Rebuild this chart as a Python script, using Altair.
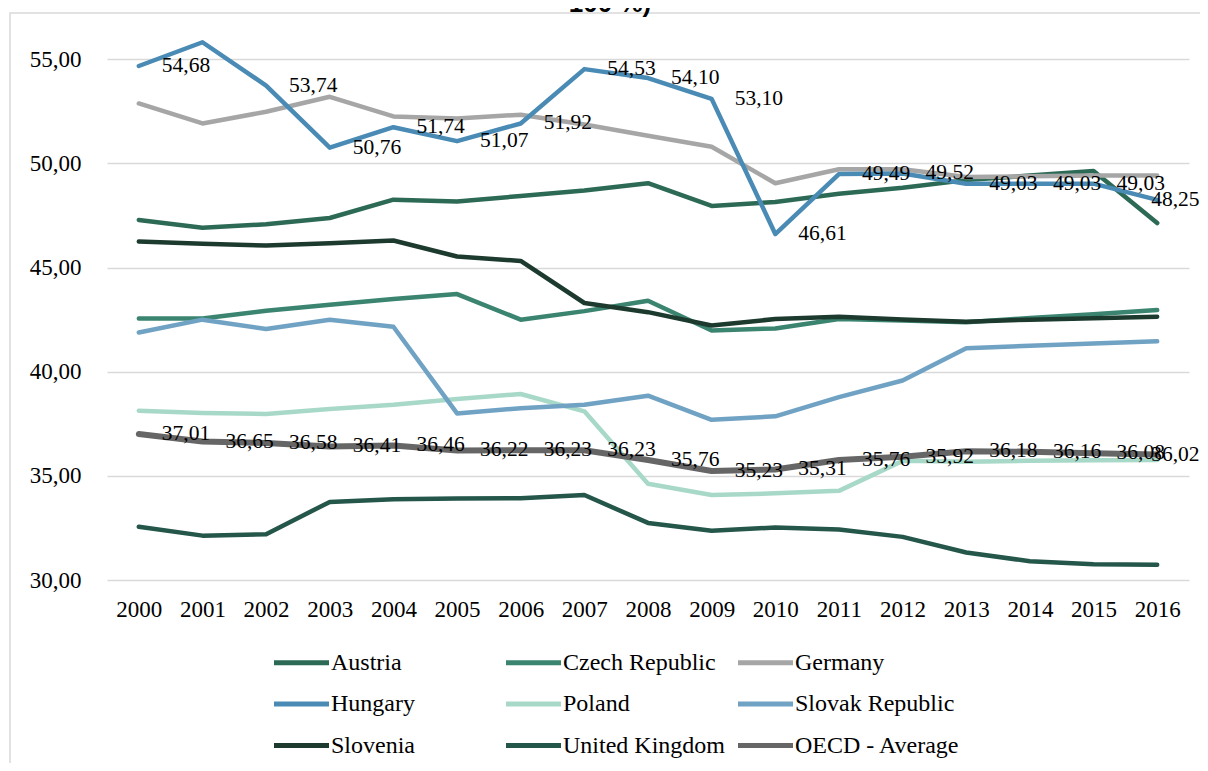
import altair as alt
import pandas as pd

years = [str(y) for y in range(2000, 2017)]

series_names = ["Austria", "Czech Republic", "Germany", "Hungary", "Poland",
                "Slovak Republic", "Slovenia", "United Kingdom", "OECD - Average"]
series_colors = ["#2d6a55", "#3a8470", "#a6a6a6", "#4a8bb5", "#a8d9c8",
                 "#70a2c4", "#1d3a2f", "#24564a", "#666666"]

austria = [47.29, 46.91, 47.08, 47.38, 48.26, 48.17, 48.44, 48.70, 49.05, 47.96, 48.15, 48.55, 48.83, 49.20, 49.42, 49.64, 47.14]
czech = [42.56, 42.56, 42.93, 43.22, 43.49, 43.73, 42.50, 42.91, 43.41, 41.98, 42.08, 42.53, 42.46, 42.38, 42.58, 42.76, 42.96]
germany = [52.88, 51.92, 52.48, 53.20, 52.26, 52.16, 52.34, 51.87, 51.33, 50.80, 49.05, 49.72, 49.72, 49.35, 49.38, 49.42, 49.42]
hungary = [54.68, 55.82, 53.74, 50.76, 51.74, 51.07, 51.92, 54.53, 54.10, 53.10, 46.61, 49.49, 49.52, 49.03, 49.03, 49.03, 48.25]
poland = [38.13, 38.02, 37.97, 38.21, 38.41, 38.69, 38.93, 38.10, 34.62, 34.08, 34.16, 34.28, 35.72, 35.68, 35.72, 35.75, 35.76]
slovak = [41.88, 42.50, 42.05, 42.50, 42.16, 38.00, 38.25, 38.41, 38.85, 37.69, 37.86, 38.78, 39.58, 41.13, 41.25, 41.36, 41.46]
slovenia = [46.25, 46.14, 46.06, 46.17, 46.30, 45.53, 45.32, 43.30, 42.86, 42.22, 42.53, 42.64, 42.51, 42.40, 42.50, 42.57, 42.64]
uk = [32.56, 32.13, 32.20, 33.75, 33.88, 33.91, 33.93, 34.08, 32.74, 32.36, 32.52, 32.42, 32.07, 31.32, 30.90, 30.76, 30.73]
oecd = [37.01, 36.65, 36.58, 36.41, 36.46, 36.22, 36.23, 36.23, 35.76, 35.23, 35.31, 35.76, 35.92, 36.18, 36.16, 36.08, 36.02]

all_values = [austria, czech, germany, hungary, poland, slovak, slovenia, uk, oecd]

# which series carry data labels, and years without a label
labelled_series = ["Hungary", "OECD - Average"]
unlabelled = [("Hungary", "2001")]

y_ticks = [30, 35, 40, 45, 50, 55]
title_text = "100 %)"

rows = []
for i, (name, vals) in enumerate(zip(series_names, all_values)):
    for yr, v in zip(years, vals):
        show = name in labelled_series and (name, yr) not in unlabelled
        rows.append({"year": yr, "series": name, "value": v, "order": i, "show": show})
df = pd.DataFrame(rows)

W, H = 1082, 554
FONT = "Liberation Serif, Tinos, 'Times New Roman', 'DejaVu Serif', serif"
FS_AXIS = 23
FS_LABEL = 21.5
FS_LEGEND = 24

x_enc = alt.X("year:O", scale=alt.Scale(type="point", padding=0.5),
              axis=alt.Axis(title=None, grid=False, labelAngle=0, labelPadding=18))
y_enc = alt.Y("value:Q", scale=alt.Scale(domain=[30, 56.6], nice=False, zero=False),
              axis=alt.Axis(title=None, values=y_ticks, grid=True,
                            labelExpr="replace(format(datum.value, '.2f'), '.', ',')",
                            labelPadding=26))

one = pd.DataFrame({"t": [title_text]})

frame = alt.Chart(one).mark_rect(
    fillOpacity=0, stroke="#d9d9d9", strokeWidth=1.5
).encode(x=alt.value(-97), x2=alt.value(W + 400), y=alt.value(-13), y2=alt.value(H + 400))

title = alt.Chart(one).mark_text(
    font="Liberation Sans, Arial, sans-serif", fontSize=26, fontWeight="bold",
    align="center", baseline="alphabetic", color="black"
).encode(text="t:N", x=alt.value(W / 2 - 38), y=alt.value(-14))

lines = alt.Chart(df).mark_line(strokeCap="round", strokeJoin="round").encode(
    x=x_enc,
    y=y_enc,
    color=alt.Color("series:N", sort=series_names,
                    scale=alt.Scale(domain=series_names, range=series_colors),
                    legend=alt.Legend(title=None)),
    detail="order:O",
    strokeWidth=alt.condition(alt.datum.series == "OECD - Average", alt.value(6), alt.value(4.5)),
)

label_base = alt.Chart(df).transform_filter("datum.show").transform_calculate(
    lab="replace(format(datum.value, '.2f'), '.', ',')"
)
labels_main = label_base.transform_filter("datum.year != '2016'").mark_text(
    align="left", baseline="middle", dx=23, font=FONT, fontSize=FS_LABEL, color="black"
).encode(x="year:O", y="value:Q", text="lab:N")
labels_last = label_base.transform_filter("datum.year == '2016'").mark_text(
    align="left", baseline="middle", dx=-6, font=FONT, fontSize=FS_LABEL, color="black"
).encode(x="year:O", y="value:Q", text="lab:N")

chart = alt.layer(frame, title, lines, labels_main, labels_last).properties(
    width=W, height=H,
    padding={"left": 99, "top": 18, "right": 11, "bottom": 183},
    autosize=alt.AutoSizeParams(type="none"),
).configure_view(strokeWidth=0).configure_axis(
    labelFont=FONT, labelFontSize=FS_AXIS, labelColor="black", ticks=False, domain=False,
    gridColor="#d9d9d9", gridWidth=1.5
).configure_legend(
    orient="none", legendX=181, legendY=623, columns=3, direction="horizontal",
    symbolType="M-2.5,0H2.5", symbolSize=484, symbolStrokeWidth=5, symbolOpacity=1,
    labelFont=FONT, labelFontSize=FS_LEGEND, labelColor="black", labelOffset=16, labelLimit=300,
    rowPadding=15.5, columnPadding=0, gridAlign="all"
)

chart.save("out.html", embed_options={"renderer": "svg", "actions": False})
